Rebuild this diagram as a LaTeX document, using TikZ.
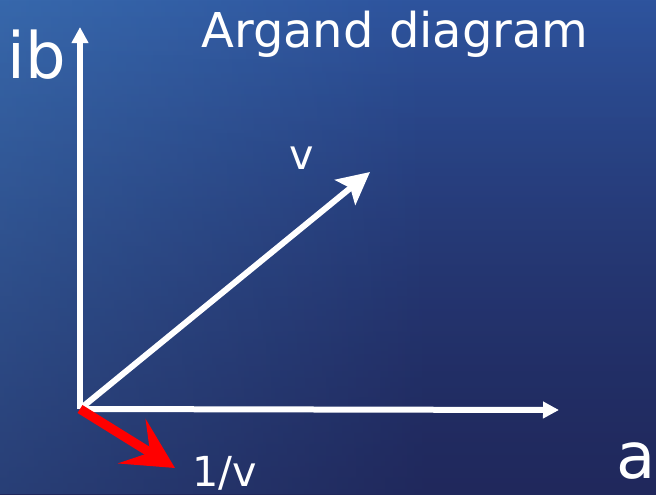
\documentclass[tikz,border=0pt]{standalone}
\usepackage{fontspec}
\setmainfont{DejaVu Sans}
\usepackage{tikz}
\usetikzlibrary{arrows.meta, positioning, fadings}
\definecolor{seatop}{RGB}{46, 84, 158}
\definecolor{seamid}{RGB}{40, 68, 140}
\definecolor{seabot}{RGB}{32, 40, 92}
\definecolor{seaglow}{RGB}{62, 118, 182}
\definecolor{vecred}{RGB}{255, 0, 0}
\tikzset{
    lbl/.style={text=white, inner sep=0pt, anchor=base},
    axis/.style={draw=white, line width=4.5pt, -{Triangle[length=12pt, width=12pt]}},
    vector/.style={draw=white, line width=4.5pt, -{Stealth[length=24pt, width=24pt, inset=5pt]}},
    inverse/.style={draw=vecred, line width=7pt, -{Stealth[length=38pt, width=39pt, inset=16pt]}}
}

\begin{document}
\begin{tikzpicture}[x=0.75pt, y=-0.75pt]

    % background (water)
    \useasboundingbox (0,0) rectangle (656,494);
    \shade [top color=seatop, middle color=seamid, bottom color=seabot] (0,0) rectangle (656,494);
    \fill [seaglow, path fading=east, opacity=0.6] (0,0) rectangle (430,494);
    \fill [seabot, path fading=north, opacity=0.5] (0,0) rectangle (656,494);

    % points
    \coordinate (O) at (80,409);
    \coordinate (ytip) at (80,27);
    \coordinate (xtip) at (559,410);
    \coordinate (vtip) at (370,172);
    \coordinate (rtip) at (175,468);

    % labels
    \node (title) [lbl, font=\fontsize{36}{40}\selectfont] at (395,47) {Argand diagram};
    \node (ib)    [lbl, font=\fontsize{48}{52}\selectfont] at (37,78) {ib};
    \node (a)     [lbl, font=\fontsize{48}{52}\selectfont] at (636,478) {a};
    \node (v)     [lbl, font=\fontsize{31}{34}\selectfont] at (302,169) {v};
    \node (inv)   [lbl, font=\fontsize{31}{34}\selectfont] at (225,486) {1/v};

    % arrows
    \draw [axis] (O) -- (ytip);
    \draw [axis] (O) -- (xtip);
    \draw [vector] (O) -- (vtip);
    \draw [inverse] (O) -- (rtip);

\end{tikzpicture}
\end{document}
